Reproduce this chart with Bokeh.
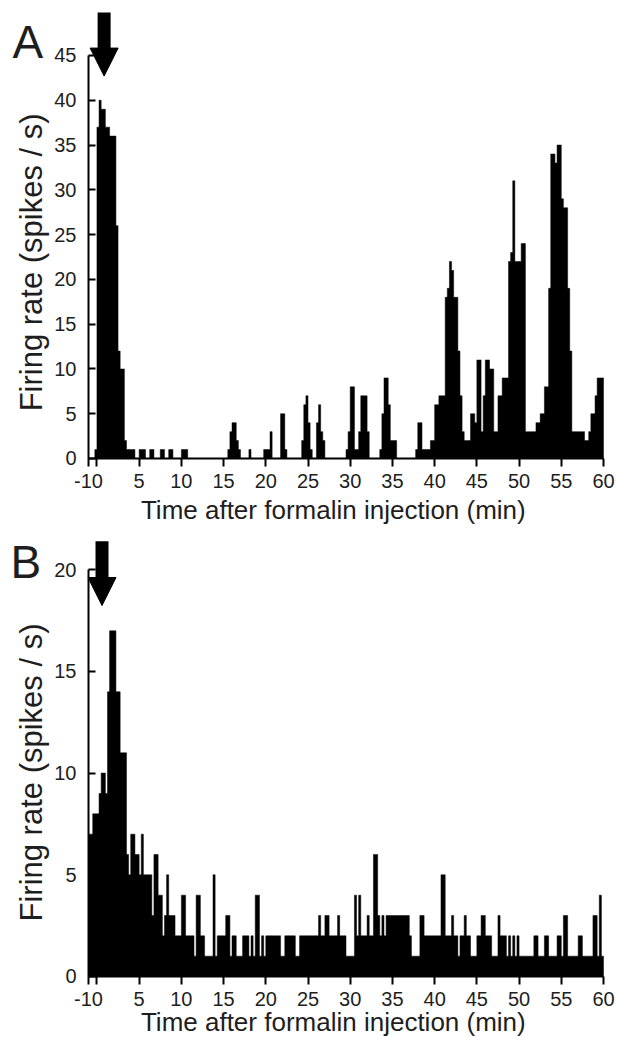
import numpy as np
from math import pi
from bokeh.plotting import figure
from bokeh.layouts import column
from bokeh.models import Range1d, FixedTicker, Label, Arrow, NormalHead
from bokeh.embed import file_html
from bokeh.resources import INLINE

# ---------------- data ----------------
BIN_MIN = 0.25          # bin width (min)
T_START = -1.0          # left edge of first bin (min)

# Panel A: firing rate (spikes/s), one row per minute (4 bins each), from t=-1
rate_a = [
    0, 0, 0, 1,        # -1
    37, 40, 39, 39,    # 0
    37, 37, 36, 36,    # 1
    36, 26, 12, 10,    # 2
    10, 2, 1, 1,       # 3
    1, 1, 0, 0,        # 4
    1, 1, 1, 0,        # 5
    0, 1, 1, 0,        # 6
    0, 0, 1, 1,        # 7
    0, 0, 1, 1,        # 8
    0, 0, 0, 0,        # 9
    1, 1, 1, 0,        # 10
    0, 0, 0, 0,        # 11
    0, 0, 0, 0,        # 12
    0, 0, 0, 0,        # 13
    0, 0, 0, 0,        # 14
    0, 0, 1, 3,        # 15
    4, 4, 2, 1,        # 16
    0, 0, 0, 0,        # 17
    1, 0, 0, 0,        # 18
    0, 0, 0, 1,        # 19
    1, 1, 3, 0,        # 20
    0, 0, 0, 5,        # 21
    5, 1, 0, 0,        # 22
    0, 0, 0, 0,        # 23
    0, 2, 6, 7,        # 24
    4, 1, 0, 0,        # 25
    4, 6, 3, 2,        # 26
    0, 0, 0, 0,        # 27
    0, 0, 0, 0,        # 28
    0, 0, 1, 3,        # 29
    8, 8, 1, 1,        # 30
    3, 7, 7, 7,        # 31
    3, 0, 0, 0,        # 32
    0, 0, 1, 5,        # 33
    9, 9, 6, 2,        # 34
    2, 2, 0, 0,        # 35
    0, 0, 0, 0,        # 36
    0, 0, 0, 1,        # 37
    4, 4, 1, 1,        # 38
    1, 1, 2, 2,        # 39
    6, 6, 7, 7,        # 40
    7, 18, 19, 22,     # 41
    21, 18, 18, 12,    # 42
    7, 3, 2, 2,        # 43
    2, 5, 5, 4,        # 44
    11, 11, 3, 7,      # 45
    11, 11, 10, 10,    # 46
    3, 3, 7, 7,        # 47
    9, 9, 9, 22,       # 48
    23, 31, 22, 22,    # 49
    22, 24, 24, 3,     # 50
    3, 3, 3, 3,        # 51
    4, 4, 5, 5,        # 52
    8, 8, 19, 34,      # 53
    34, 33, 35, 35,    # 54
    29, 28, 28, 19,    # 55
    12, 3, 3, 3,       # 56
    3, 3, 3, 2,        # 57
    2, 3, 5, 5,        # 58
    7, 9, 9, 9,        # 59
]

# Panel B
rate_b = [
    7, 7, 8, 8,        # -1
    8, 9, 10, 10,      # 0
    9, 14, 17, 17,     # 1
    17, 14, 14, 11,    # 2
    11, 11, 6, 5,      # 3
    7, 7, 6, 6,        # 4
    5, 7, 5, 5,        # 5
    5, 5, 3, 6,        # 6
    6, 4, 4, 2,        # 7
    3, 5, 3, 3,        # 8
    3, 2, 2, 2,        # 9
    4, 4, 2, 2,        # 10
    2, 2, 1, 4,        # 11
    4, 2, 2, 1,        # 12
    1, 1, 1, 5,        # 13
    1, 2, 2, 2,        # 14
    2, 3, 3, 1,        # 15
    2, 2, 1, 1,        # 16
    1, 2, 2, 2,        # 17
    1, 2, 1, 4,        # 18
    4, 1, 2, 1,        # 19
    2, 2, 2, 2,        # 20
    2, 2, 2, 1,        # 21
    1, 2, 2, 2,        # 22
    2, 2, 1, 1,        # 23
    2, 2, 2, 2,        # 24
    2, 2, 2, 2,        # 25
    2, 3, 2, 2,        # 26
    3, 3, 2, 2,        # 27
    2, 2, 3, 2,        # 28
    2, 2, 1, 1,        # 29
    1, 1, 4, 2,        # 30
    4, 2, 2, 2,        # 31
    3, 2, 2, 6,        # 32
    6, 3, 2, 3,        # 33
    2, 3, 3, 3,        # 34
    3, 3, 3, 3,        # 35
    3, 3, 3, 3,        # 36
    2, 1, 1, 1,        # 37
    1, 3, 3, 2,        # 38
    2, 2, 2, 2,        # 39
    2, 2, 2, 5,        # 40
    5, 2, 2, 2,        # 41
    3, 2, 2, 1,        # 42
    2, 2, 3, 2,        # 43
    2, 1, 1, 1,        # 44
    2, 2, 3, 3,        # 45
    2, 2, 2, 1,        # 46
    1, 1, 3, 2,        # 47
    2, 2, 1, 2,        # 48
    1, 2, 1, 2,        # 49
    1, 1, 1, 1,        # 50
    1, 1, 1, 2,        # 51
    2, 1, 1, 1,        # 52
    2, 2, 1, 1,        # 53
    1, 1, 2, 2,        # 54
    1, 3, 3, 1,        # 55
    1, 1, 1, 1,        # 56
    2, 2, 1, 1,        # 57
    1, 1, 1, 3,        # 58
    3, 1, 4, 1,        # 59
]

x_ticks = [-1, 0, 5, 10, 15, 20, 25, 30, 35, 40, 45, 50, 55, 60]
x_tick_labels = ["-10", "", "5", "10", "15", "20", "25", "30", "35", "40",
                 "45", "50", "55", "60"]
y_ticks_a = [0, 5, 10, 15, 20, 25, 30, 35, 40, 45]
y_ticks_b = [0, 5, 10, 15, 20]

x_title = "Time after formalin injection (min)"
y_title = "Firing rate (spikes / s)"

FONT = "Liberation Sans"
TXT = "#1e1e1e"
X_LO, X_HI = -11.423, 61.658      # visible x extent (axis runs -1..60)


def make_panel(rates, letter, y_ticks, y_lo, y_hi, height,
               arrow_x, arrow_tip, arrow_start, ylab_y, xlab_y, letter_x, letter_y):
    p = figure(width=617, height=height, output_backend="svg", toolbar_location=None,
               x_range=Range1d(X_LO, X_HI), y_range=Range1d(y_lo, y_hi),
               min_border=0)
    p.min_border_left = p.min_border_right = p.min_border_top = p.min_border_bottom = 0
    p.outline_line_color = None
    p.grid.visible = False
    p.background_fill_color = "white"
    p.border_fill_color = "white"

    vals = np.asarray(rates, dtype=float)
    edges = T_START + BIN_MIN * np.arange(len(vals) + 1)
    xs = np.concatenate([[edges[0]], np.repeat(edges, 2)[1:-1], [edges[-1]]])
    ys = np.concatenate([[0.0], np.repeat(vals, 2), [0.0]])
    p.patch(xs, ys, fill_color="black", line_color="black", line_width=0.5)

    # x axis (drawn at y = 0)
    xa = p.xaxis[0]
    xa.fixed_location = 0
    xa.bounds = (x_ticks[0], x_ticks[-1])
    xa.ticker = FixedTicker(ticks=x_ticks)
    xa.major_label_overrides = {t: s for t, s in zip(x_ticks, x_tick_labels)}
    xa.minor_tick_line_color = None
    xa.major_tick_in = 0
    xa.major_tick_out = 8
    xa.major_tick_line_width = 2
    xa.axis_line_width = 2
    xa.axis_line_color = "black"
    xa.major_tick_line_color = "black"
    xa.major_label_text_font = FONT
    xa.major_label_text_font_size = "20px"
    xa.major_label_text_color = TXT
    xa.major_label_standoff = 8

    # y axis (drawn at x = -1)
    ya = p.yaxis[0]
    ya.fixed_location = x_ticks[0]
    ya.ticker = FixedTicker(ticks=y_ticks)
    ya.bounds = (0, y_ticks[-1])
    ya.minor_tick_line_color = None
    ya.major_tick_in = 7
    ya.major_tick_out = 0
    ya.major_tick_line_width = 2
    ya.axis_line_width = 2
    ya.axis_line_color = "black"
    ya.major_tick_line_color = "black"
    ya.major_label_text_font = FONT
    ya.major_label_text_font_size = "20px"
    ya.major_label_text_color = TXT
    ya.major_label_standoff = 12

    p.add_layout(Label(x=-7.75, y=ylab_y, text=y_title, angle=pi / 2,
                       text_align="center", text_baseline="middle",
                       text_font=FONT, text_font_size="31px", text_color=TXT))
    p.add_layout(Label(x=28.0, y=xlab_y, text=x_title,
                       text_align="center", text_baseline="middle",
                       text_font=FONT, text_font_size="26px", text_color=TXT))
    p.add_layout(Label(x=letter_x, y=letter_y, text=letter,
                       text_align="left", text_baseline="middle",
                       text_font=FONT, text_font_size="46px", text_color=TXT))
    p.add_layout(Arrow(x_start=arrow_x, y_start=arrow_start, x_end=arrow_x, y_end=arrow_tip,
                       line_width=13, line_color="black",
                       end=NormalHead(size=28, fill_color="black", line_color="black")))
    return p


pa = make_panel(rate_a, "A", y_ticks_a, -8.04, 51.14, 530,
                0.85, 42.7, 49.8, 21.9, -5.78, -10.0, 46.5)
pb = make_panel(rate_b, "B", y_ticks_b, -3.0, 21.93, 507,
                0.6, 18.24, 21.4, 10.03, -2.26, -10.24, 20.38)

layout = column(pa, pb, spacing=0)
open("out.html", "w").write(file_html(layout, INLINE))
